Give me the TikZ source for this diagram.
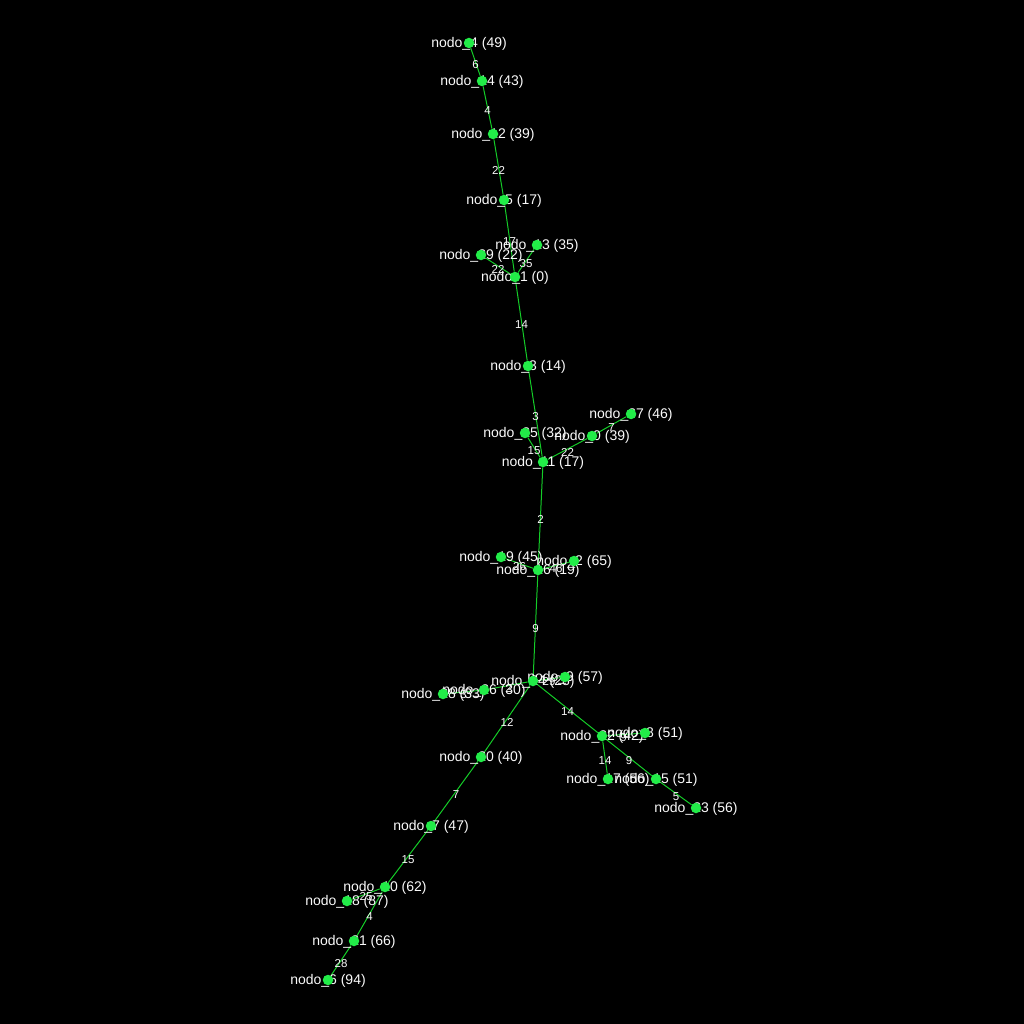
\documentclass[tikz,border=0pt]{standalone}
\usepackage{fontspec}
\setmainfont{Liberation Sans}
\definecolor{dotgreen}{RGB}{34,236,72}
\definecolor{edgegreen}{RGB}{20,205,40}
\definecolor{txtwhite}{RGB}{250,250,250}
\pgfdeclarelayer{bg}
\pgfdeclarelayer{edges}
\pgfdeclarelayer{txt}
\pgfsetlayers{bg,edges,txt,main}
\tikzset{
  dot/.style={circle,fill=dotgreen,draw=none,inner sep=0pt,minimum size=10.5pt},
  lbl/.style={text=txtwhite,inner sep=0pt,yshift=-1pt,font=\fontsize{14}{16}\selectfont},
  edge/.style={draw=edgegreen,line width=1pt},
  elbl/.style={text=txtwhite,inner sep=0pt,font=\fontsize{11.5}{13}\selectfont,midway,yshift=-3pt}
}
\newcommand\gnode[4]{%
  \node[dot] (#1) at (#2,#3) {};
  \begin{pgfonlayer}{txt}\node[lbl] (#1t) at (#2,#3) {#4};\end{pgfonlayer}}
\newcommand\gedge[3]{%
  \begin{pgfonlayer}{edges}\draw[edge] (#1) -- node[elbl]{#3} (#2);\end{pgfonlayer}}
\begin{document}
\begin{tikzpicture}[x=1pt,y=-1pt]
\begin{pgfonlayer}{bg}
\fill[black] (0,0) rectangle (1024,1024);
\end{pgfonlayer}
\useasboundingbox (0,0) rectangle (1024,1024);
\gnode{n4}{469}{43}{nodo\_4 (49)}
\gnode{n14}{482}{81}{nodo\_14 (43)}
\gnode{n12}{493}{134}{nodo\_12 (39)}
\gnode{n5}{504}{200}{nodo\_5 (17)}
\gnode{n13}{537}{245}{nodo\_13 (35)}
\gnode{n29}{481}{255}{nodo\_29 (22)}
\gnode{n1}{515}{277}{nodo\_1 (0)}
\gnode{n3}{528}{366}{nodo\_3 (14)}
\gnode{n37}{631}{414}{nodo\_37 (46)}
\gnode{n0}{592}{436}{nodo\_0 (39)}
\gnode{n25}{525}{433}{nodo\_25 (32)}
\gnode{n11}{543}{462}{nodo\_11 (17)}
\gnode{n19}{501}{557}{nodo\_19 (45)}
\gnode{n2}{574}{561}{nodo\_2 (65)}
\gnode{n16}{538}{570}{nodo\_16 (19)}
\gnode{n24}{533}{681}{nodo\_24 (28)}
\gnode{n9}{565}{677}{nodo\_9 (57)}
\gnode{n26}{484}{690}{nodo\_26 (30)}
\gnode{n28}{443}{694}{nodo\_28 (33)}
\gnode{n22}{602}{736}{nodo\_22 (42)}
\gnode{n8}{645}{733}{nodo\_8 (51)}
\gnode{n17}{608}{779}{nodo\_17 (56)}
\gnode{n15}{656}{779}{nodo\_15 (51)}
\gnode{n23}{696}{808}{nodo\_23 (56)}
\gnode{n20}{481}{757}{nodo\_20 (40)}
\gnode{n7}{431}{826}{nodo\_7 (47)}
\gnode{n10}{385}{887}{nodo\_10 (62)}
\gnode{n18}{347}{901}{nodo\_18 (87)}
\gnode{n21}{354}{941}{nodo\_21 (66)}
\gnode{n6}{328}{980}{nodo\_6 (94)}
\gedge{n4}{n14}{6}
\gedge{n14}{n12}{4}
\gedge{n12}{n5}{22}
\gedge{n5}{n1}{17}
\gedge{n13}{n1}{35}
\gedge{n29}{n1}{22}
\gedge{n1}{n3}{14}
\gedge{n3}{n11}{3}
\gedge{n25}{n11}{15}
\gedge{n0}{n11}{22}
\gedge{n37}{n0}{7}
\gedge{n11}{n16}{2}
\gedge{n16}{n19}{26}
\gedge{n16}{n2}{46}
\gedge{n16}{n24}{9}
\gedge{n24}{n9}{29}
\gedge{n24}{n26}{2}
\gedge{n26}{n28}{3}
\gedge{n24}{n20}{12}
\gedge{n24}{n22}{14}
\gedge{n22}{n8}{9}
\gedge{n22}{n17}{14}
\gedge{n22}{n15}{9}
\gedge{n15}{n23}{5}
\gedge{n20}{n7}{7}
\gedge{n7}{n10}{15}
\gedge{n10}{n18}{25}
\gedge{n10}{n21}{4}
\gedge{n21}{n6}{28}
\end{tikzpicture}
\end{document}
